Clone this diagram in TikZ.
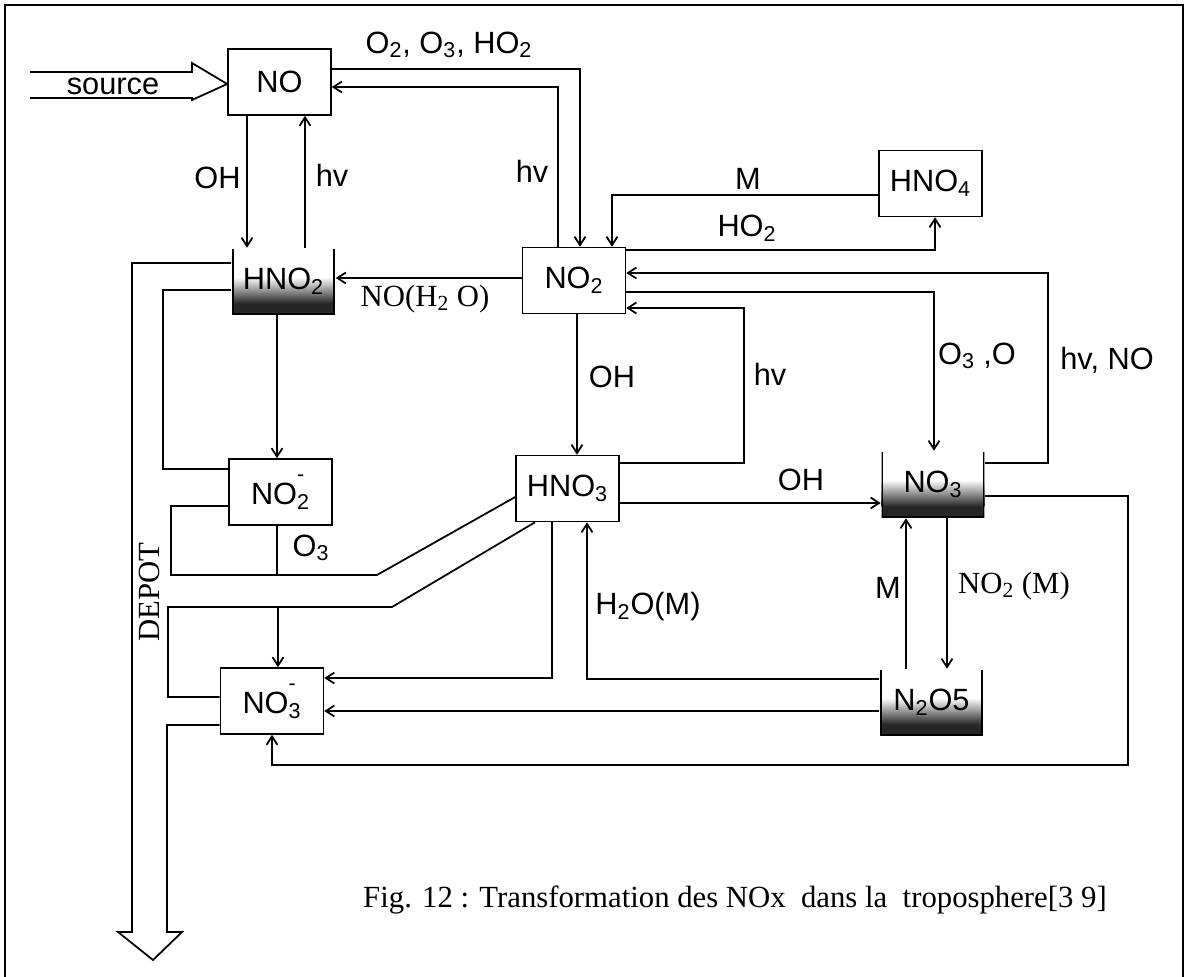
\documentclass[tikz,border=0pt]{standalone}
\usepackage{fontspec}
\setmainfont{Liberation Serif}
\setsansfont{Liberation Sans}
\usetikzlibrary{arrows.meta, positioning, calc}
\newcommand{\anion}[1]{NO\rlap{\raisebox{0.75ex}{\textsuperscript{-}}}\textsubscript{#1}}
\tikzset{
  every picture/.style={line width=1pt},
  spec/.style={draw, line width=0.9pt, minimum width=2.06cm, minimum height=1.32cm, inner sep=0pt, font=\sffamily\fontsize{17.5}{20}\selectfont},
  beaker/.style={spec, draw=none, path picture={
      \fill[black!85] (path picture bounding box.south west) rectangle ([yshift=0.22cm]path picture bounding box.south east);
      \shade[bottom color=black!85, top color=white] ([yshift=0.22cm]path picture bounding box.south west) rectangle ([yshift=0.75cm]path picture bounding box.south east);
      \draw[line width=2pt] (path picture bounding box.north west) -- (path picture bounding box.south west) -- (path picture bounding box.south east) -- (path picture bounding box.north east);
    }},
  flow/.style={-{Straight Barb[length=1.7mm, width=2.2mm]}},
  lbl/.style={font=\sffamily\fontsize{17.5}{20}\selectfont, inner sep=0pt},
  slbl/.style={font=\rmfamily\fontsize{17.5}{20}\selectfont, inner sep=0pt},
}

\begin{document}
\begin{tikzpicture}[x=0.02cm, y=-0.02cm]
  \useasboundingbox (0,0) rectangle (1191,977);
  \draw (5,977) -- (5,5) -- (1183,5) -- (1183,977);

  % species
  \node[spec]   (NO)   at (279.5,82)  {NO};
  \node[beaker] (HNO2) at (283.5,281.5) {HNO\textsubscript{2}};
  \node[spec]   (NO2)  at (574,280.5) {NO\textsubscript{2}};
  \node[spec]   (HNO4) at (930.5,183.5) {HNO\textsubscript{4}};
  \node[spec]   (NO2m) at (280.5,492) {\anion{2}};
  \node[spec]   (HNO3) at (567.5,488.5) {HNO\textsubscript{3}};
  \node[beaker] (NO3)  at (933,484.5) {NO\textsubscript{3}};
  \node[beaker] (N2O5) at (931.5,702.5) {N\textsubscript{2}O5};
  \node[spec]   (NO3m) at (272,701)   {\anion{3}};

  % source and depot
  \draw (30,72) -- (192,72) -- (192,63) -- (NO.west |- 0,84) -- (192,100) |- (30,98);
  \node[lbl] (src) at (113,86) {source};
  \draw (HNO2.west |- 0,263) -| (132,932) -- (118,932) -- (153,960) -- (182,932) -- (167,932) |- (NO3m.west |- 0,725);
  \node[slbl, rotate=90] (dep) at (149,592) {DEPOT};

  % NO <-> HNO2 <-> NO2
  \draw[flow] (247,0 |- NO.south) -- (247,0 |- HNO2.north);
  \node[lbl] (l1) at (217.5,178) {OH};
  \draw[flow] (305,0 |- HNO2.north) -- (305,0 |- NO.south);
  \node[lbl] (l2) at (332,175) {hv};
  \draw[flow] (NO.east |- 0,69) -| (580,0 |- NO2.north);
  \node[lbl] (l3) at (449,45) {O\textsubscript{2}, O\textsubscript{3}, HO\textsubscript{2}};
  \draw[flow] (558,0 |- NO2.north) |- (NO.east |- 0,87);
  \node[lbl] (l4) at (532,171) {hv};
  \draw[flow] (NO2.west |- 0,278) -- (HNO2.east |- 0,278);
  \node[slbl] (l5) at (425,299) {NO(H\textsubscript{2} O)};

  % NO2 <-> HNO4
  \draw[flow] (HNO4.west |- 0,195) -| (612,0 |- NO2.north);
  \node[lbl] (l6) at (748,179) {M};
  \draw[flow] (NO2.east |- 0,250) -| (935,0 |- HNO4.south);
  \node[lbl] (l7) at (747,228) {HO\textsubscript{2}};

  % NO2 <-> NO3
  \draw[flow] (NO2.east |- 0,292) -| (934,0 |- NO3.north);
  \node[lbl] (l8) at (977,356) {O\textsubscript{3} ,O};
  \draw[flow] (NO3.east |- 0,463) -| (1048,273) -- (NO2.east |- 0,273);
  \node[lbl] (l9) at (1107,360) {hv, NO};

  % NO2 <-> HNO3
  \draw[flow] (577,0 |- NO2.south) -- (577,0 |- HNO3.north);
  \node[lbl] (l10) at (612,377) {OH};
  \draw[flow] (HNO3.east |- 0,463) -| (744,308) -- (NO2.east |- 0,308);
  \node[lbl] (l11) at (770,374) {hv};

  % HNO3, NO3, N2O5
  \draw[flow] (HNO3.east |- 0,503) -- (NO3.west |- 0,503);
  \node[lbl] (l12) at (801,480) {OH};
  \draw[flow] (947,0 |- NO3.south) -- (947,0 |- N2O5.north);
  \node[slbl] (l13) at (1014,586) {NO\textsubscript{2} (M)};
  \draw[flow] (906,0 |- N2O5.north) -- (906,0 |- NO3.south);
  \node[lbl] (l14) at (888,588) {M};
  \draw[flow] (N2O5.west |- 0,679) -| (587,0 |- HNO3.south);
  \node[lbl] (l15) at (648,607) {H\textsubscript{2}O(M)};

  % HNO2 -> NO2- and deposition lanes
  \draw[flow] (277,0 |- HNO2.south) -- (277,0 |- NO2m.north);
  \draw (HNO2.west |- 0,290) -| (163,469) -- (NO2m.west |- 0,469);
  \draw (NO2m.west |- 0,506) -| (171,575) -- (377,575) -- (HNO3.west |- 0,497);
  \draw (277,0 |- NO2m.south) -- (277,575);
  \node[lbl] (l16) at (311,548) {O\textsubscript{3}};
  \draw (535,0 |- HNO3.south) -- (392,607) -- (168,607) |- (NO3m.west |- 0,697);
  \draw[flow] (278,607) -- (278,0 |- NO3m.north);

  % to NO3-
  \draw[flow] (552,0 |- HNO3.south) |- (NO3m.east |- 0,678);
  \draw[flow] (N2O5.west |- 0,711) -- (NO3m.east |- 0,711);
  \draw[flow] (NO3.east |- 0,496) -| (1128,765) -| (272,0 |- NO3m.south);

  \node[slbl] (cap) at (735,900) {Fig. 12 : Transformation des NOx\ \ dans la\ \ troposphere[3 9]};
\end{tikzpicture}
\end{document}
